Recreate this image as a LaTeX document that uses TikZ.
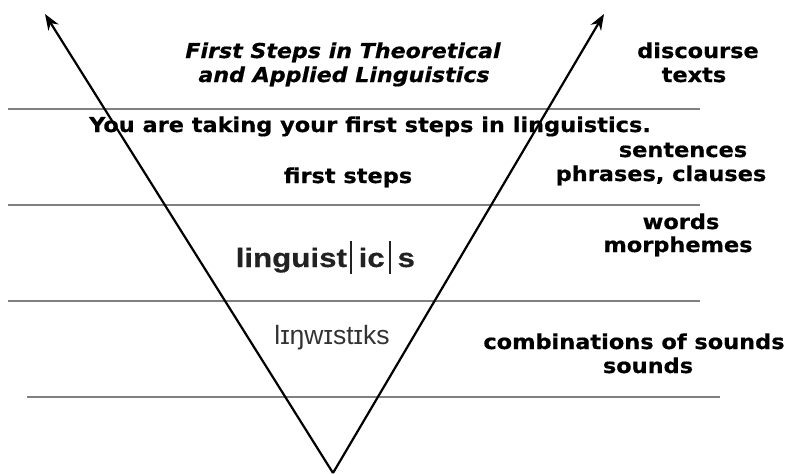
\documentclass[tikz,border=0pt]{standalone}
\usepackage{fontspec}
\usetikzlibrary{arrows.meta}
\newfontfamily\vbold[FakeStretch=1.095,FakeBold=0.6]{DejaVu Sans Bold}
\newfontfamily\vboldit[FakeStretch=1.08,FakeBold=0.6]{DejaVu Sans Bold Oblique}
\newfontfamily\abold[FakeStretch=1.18,FakeBold=0.6]{Liberation Sans Bold}
\newfontfamily\areg{Liberation Sans}
\definecolor{linegray}{HTML}{808080}
\definecolor{darktxt}{HTML}{222222}
\definecolor{ipatxt}{HTML}{333333}
\begin{document}
\begin{tikzpicture}[x=1pt,y=-1pt,
  level/.style={draw=linegray,line width=1.8pt},
  axis/.style={draw=black,line width=2.2pt,-{Stealth[length=16pt,width=12pt]}},
  lab/.style={inner sep=0pt,anchor=base,font=\vbold\fontsize{20.5}{25}\selectfont},
  ttl/.style={inner sep=0pt,anchor=base,font=\vboldit\fontsize{20.5}{25}\selectfont},
  big/.style={inner sep=0pt,anchor=base west,text=darktxt,font=\abold\fontsize{26.5}{30}\selectfont},
  ipa/.style={inner sep=0pt,anchor=base,text=ipatxt,font=\areg\fontsize{26.5}{30}\selectfont}]
\useasboundingbox (0,0) rectangle (788,474);
% level lines
\coordinate (l1a) at (8,109);  \coordinate (l1b) at (700,109);
\coordinate (l2a) at (8,205);  \coordinate (l2b) at (700,205);
\coordinate (l3a) at (8,301);  \coordinate (l3b) at (700,301);
\coordinate (l4a) at (27,397); \coordinate (l4b) at (720,397);
\draw[level] (l1a) -- (l1b);
\draw[level] (l2a) -- (l2b);
\draw[level] (l3a) -- (l3b);
\draw[level] (l4a) -- (l4b);
% V arrows
\coordinate (v) at (333,473);
\coordinate (tl) at (45,14);
\coordinate (tr) at (604,14);
\draw[axis] (v) -- (tl);
\draw[axis] (v) -- (tr);
% texts
\node[ttl] (t1) at (343,58) {First Steps in Theoretical};
\node[ttl] (t2) at (344,82) {and Applied Linguistics};
\node[lab] (you) at (370,132) {You are taking your first steps in linguistics.};
\node[lab] (fs) at (348,183) {first steps};
\node[lab] (disc) at (698,58) {discourse};
\node[lab] (texts) at (694,82) {texts};
\node[lab] (sent) at (683,157) {sentences};
\node[lab] (phr) at (661,181) {phrases, clauses};
\node[lab] (words) at (681,229) {words};
\node[lab] (morph) at (678,252) {morphemes};
\node[lab] (comb) at (634,349) {combinations of sounds};
\node[lab] (snd) at (648,373) {sounds};
\node[big] (ling) at (235.5,267) {linguist\hspace{3pt}\rule[-7pt]{1.8pt}{33pt}\hspace{7pt}ic\hspace{4pt}\rule[-7pt]{1.8pt}{33pt}\hspace{7pt}s};
\node[ipa] (ipa) at (332,344) {lɪŋwɪstɪks};
\end{tikzpicture}
\end{document}
